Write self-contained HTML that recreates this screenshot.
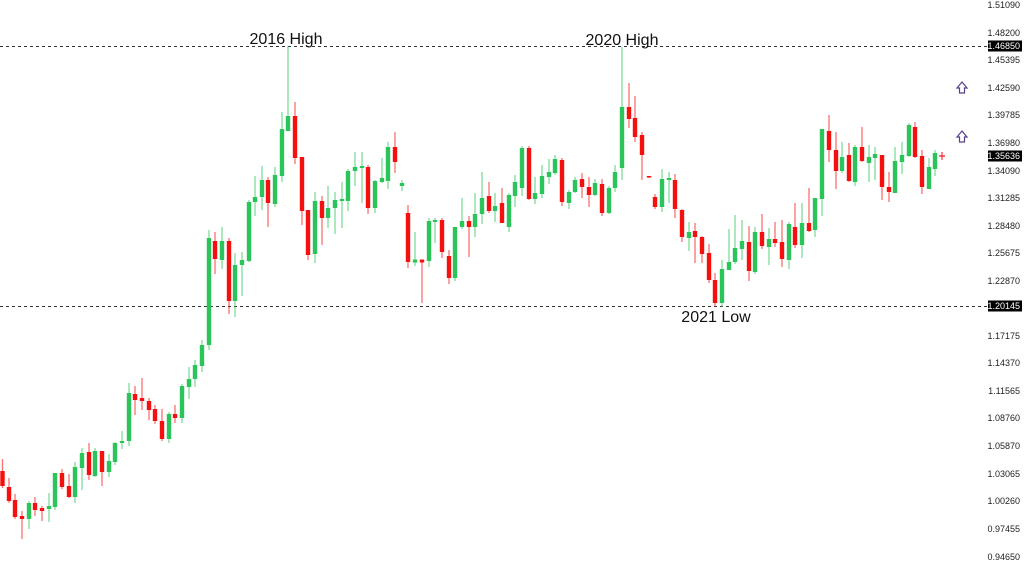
<!DOCTYPE html>
<html><head><meta charset="utf-8"><style>
html,body{margin:0;padding:0;background:#fff;width:1024px;height:576px;overflow:hidden}
svg{display:block;font-family:"Liberation Sans",Arial,sans-serif}
</style></head><body>
<svg id="c" width="1024" height="576" viewBox="0 0 1024 576" xmlns="http://www.w3.org/2000/svg">
<line x1="0" y1="46.5" x2="990" y2="46.5" stroke="#333" stroke-dasharray="3,3" stroke-width="1"/>
<line x1="0" y1="306.5" x2="990" y2="306.5" stroke="#333" stroke-dasharray="3,3" stroke-width="1"/>
<g id="cd"></g>
<g font-size="16" fill="#111" text-anchor="middle">
<text x="286" y="44">2016 High</text>
<text x="622" y="45">2020 High</text>
<text x="716" y="322">2021 Low</text>
</g>
<g fill="none" stroke="#5a3d8a" stroke-width="1.2">
<path d="M962 82 L967 88 L964.5 88 L964.5 93 L959.5 93 L959.5 88 L957 88 Z"/>
<path d="M962 131 L967 137 L964.5 137 L964.5 142 L959.5 142 L959.5 137 L957 137 Z"/>
</g>
<g id="ax" font-size="9" fill="#222" text-anchor="end"></g>
</svg>
<script>
var G="#2bc45a",R="#f51010";
var d=[[2.5,471,486,459,488],[9,487,501,478,503],[15,500,517,494,519],[22,516,519,511,539],[29,519,503,501,529],[35,503,510,497,516],[42,508,511,506,521],[49,509,506,493,522],[55,507,473,473,510],[62,473,487,469,489],[69,486,497,474,498],[75,497,467,462,503],[82,468,453,448,490],[89,452,475,443,480],[95,476,451,448,477],[102,451,472,451,486],[109,472,461,454,477],[115,462,443,442,465],[122,443,441,431,449],[129,441,393,383,446],[135,394,400,386,415],[142,398,401,378,410],[149,401,410,398,420],[155,409,421,405,424],[162,421,439,409,441],[169,439,414,412,443],[175,414,418,405,423],[182,418,386,384,423],[189,387,379,367,399],[195,379,365,360,387],[202,366,345,340,372],[209,345,238,230,350],[215,241,259,232,274],[222,260,241,227,269],[229,241,301,238,314],[235,301,265,253,317],[242,265,260,252,296],[249,261,202,200,262],[255,202,197,176,216],[262,197,180,166,210],[268,180,203,177,227],[275,204,175,167,207],[282,176,129,112,182],[288,131,116,46,131],[295,116,158,102,164],[302,157,211,157,225],[308,210,255,210,260],[315,254,201,192,263],[322,201,218,196,245],[328,218,208,186,228],[335,208,200,192,234],[342,201,199,182,228],[348,201,171,169,211],[355,171,167,152,186],[362,168,166,152,203],[368,167,208,165,214],[375,208,181,180,213],[382,182,178,158,183],[388,181,147,142,189],[395,147,162,132,173],[402,186,183,180,191],[408,213,262,205,268],[415,261.5,260.5,232,266],[422,260.5,261.5,261,303],[429,261,221,218,267],[435,222,220,218,243],[442,220,252,218,258],[449,256,278,250,284],[455,278,227,227,281],[462,227,221,198,229],[469,221,227,216,257],[475,227,214,193,237],[482,214,198,172,224],[489,196,211,182,213],[495,211,206,193,222],[502,203,223,188,223],[509,227,195,193,232],[515,196,182,175,207],[522,188,148,146,196],[529,148,199,146,200],[535,199,193,177,204],[542,194,176,165,198],[549,177,172,159,184],[555,173,159,155,175],[562,160,202,158,206],[569,203,192,190,209],[575,192,180,177,193],[582,179,187,173,198],[589,187,195,177,207],[595,195,183,179,196],[602,184,213,179,216],[609,213,188,186,214],[615,188,172,165,192],[622,168,107,47,180],[629,107,119,83,128],[635,118,137,96,142],[642,135,155,132,180],[649,176,177.5,176,178],[655,197,207,194,209],[662,207,179,169,212],[669,180,178,172,203],[675,180,209,174,218],[682,210,237,209,242],[689,238,232,222,251],[695,231,237,223,263],[702,237,254,236,263],[709,253,280,244,283],[715,280,303,273,307],[722,303,269,260,307],[729,270,262,229,270],[735,262,248,215,264],[742,249,241,220,260],[749,242,271,226,281],[755,272,232,227,274],[762,232,246,214,249],[769,247,239,228,265],[775,239,243,222,247],[782,242,259,220,267],[789,260,224,222,269],[795,227,245,203,248],[802,245,223,203,258],[809,223,231,188,232],[815,230,198,198,237],[822,199,129,129,216],[829,131,150,115,162],[836,150,171,132,189],[842,171,157,142,173],[849,155,181,143,182],[855,182,147,145,186],[862,147,161,127,162],[869,163,157,145,182],[875,158,154,147,180],[882,155,187,155,200],[889,187,192,172,202],[895,193,161,147,193],[902,162,155,142,174],[909,156,125,123,157],[915,127,157,122,158],[922,156,187,150,194],[929,189,167,158,189],[935,169,153,150,176]];
var s="";
d.forEach(function(c){var x=c[0],o=c[1],cl=c[2],h=c[3],l=c[4];var col=cl<o?G:R;
var t=Math.min(o,cl),b=Math.max(o,cl);if(b-t<1.5){t-=1;b+=1;}
s+='<line x1="'+x+'" y1="'+h+'" x2="'+x+'" y2="'+l+'" stroke="'+col+'" stroke-opacity="0.6" stroke-width="1.3"/>';
s+='<rect x="'+(x-2.2)+'" y="'+t+'" width="4.4" height="'+(b-t)+'" fill="'+col+'"/>';});
s+='<line x1="942" y1="152" x2="942" y2="160" stroke="'+R+'" stroke-width="1"/><line x1="939" y1="156" x2="945" y2="156" stroke="'+R+'" stroke-width="1.2"/>';
document.getElementById("cd").innerHTML=s;
var L=[["1.51090",5],["1.48200",33],["1.45395",60],["1.42590",88],["1.39785",115],["1.36980",143],["1.34090",171],["1.31285",198],["1.28480",226],["1.25675",253],["1.22870",281],["1.17175",336],["1.14370",363],["1.11565",391],["1.08760",418],["1.05870",446],["1.03065",474],["1.00260",501],["0.97455",529],["0.94650",557]];
var a="";L.forEach(function(v){a+='<text x="1020" y="'+(v[1]+3)+'">'+v[0]+'</text>';});
[["1.46850",46],["1.35636",156],["1.20145",306]].forEach(function(v){
a+='<rect x="988" y="'+(v[1]-5.5)+'" width="34" height="11" fill="#000"/><text x="1020" y="'+(v[1]+3)+'" fill="#fff">'+v[0]+'</text>';});
document.getElementById("ax").innerHTML=a;
</script>
</body></html>
